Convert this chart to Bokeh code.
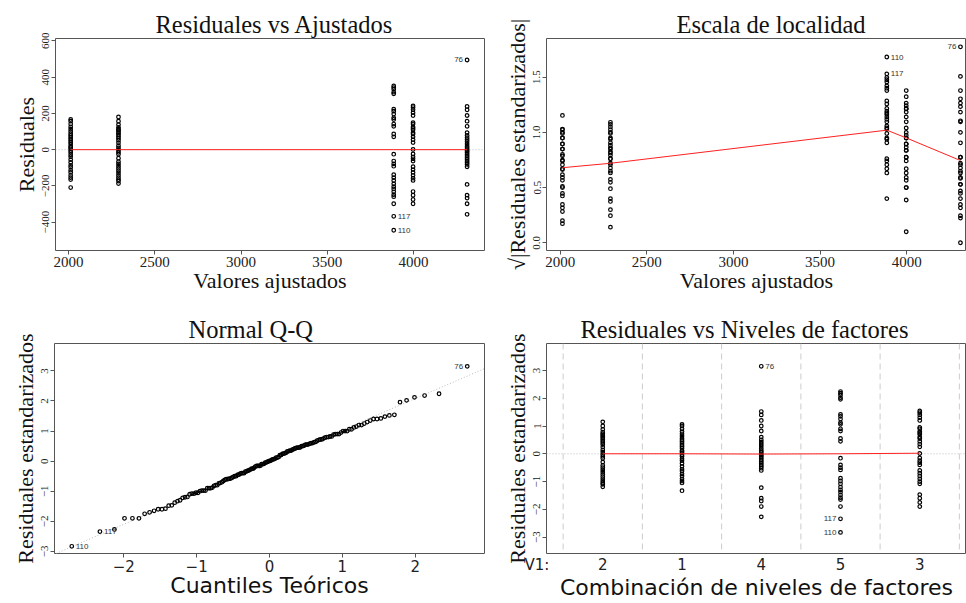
from statistics import NormalDist
import numpy as np
from bokeh.plotting import figure
from bokeh.layouts import column, row
from bokeh.models import (Range1d, Span, Slope, FixedTicker, PrintfTickFormatter)
from bokeh.core.properties import value
from bokeh.embed import file_html
from bokeh.resources import INLINE

# ---------------- data ----------------
# factor level of each fitted group and its fitted value
LEVELS = ["1", "2", "5", "3", "4"]
FITTED = [2013, 2290, 3885, 3997, 4310]

# standardized residuals per factor level
STD_RESID_1 = [-1.33, -1.05, -0.98, -0.9, -0.8, -0.72, -0.62, -0.55, -0.45, -0.35,
               -0.25, -0.18, -0.1, -0.04, 0.03, 0.08, 0.12, 0.2, 0.26, 0.32,
               0.38, 0.44, 0.5, 0.56, 0.64, 0.72, 0.8, 0.9, 1.0, 1.06]
STD_RESID_2 = [-1.19, -1.1, -1.05, -0.98, -0.9, -0.82, -0.74, -0.66, -0.58, -0.5,
               -0.42, -0.3, -0.16, -0.09, -0.02, 0.06, 0.14, 0.24, 0.33, 0.4,
               0.46, 0.52, 0.58, 0.63, 0.68, 0.72, 0.78, 0.88, 1.0, 1.15]
STD_RESID_5 = [2.24, 2.18, 2.12, 2.02, 1.96, 1.42, 1.35, 1.25, 1.12, 1.06,
               0.9, 0.82, 0.55, 0.45, -0.16, -0.4, -0.5, -0.58, -0.88, -0.98,
               -1.08, -1.2, -1.3, -1.38, -1.48, -1.58, -1.65, -1.9, -2.34, -2.83]
STD_RESID_3 = [1.54, 1.48, 1.4, 1.3, 1.2, 0.95, 0.9, 0.8, 0.75, 0.7,
               0.6, 0.55, 0.45, 0.35, 0.25, 0.01, -0.15, -0.25, -0.32, -0.4,
               -0.6, -0.7, -0.8, -0.9, -1.0, -1.08, -1.47, -1.6, -1.75, -1.9]
STD_RESID_4 = [3.15, 1.52, 1.4, 1.2, 1.0, 0.82, 0.6, 0.5, 0.42, 0.35,
               0.28, 0.2, 0.12, 0.06, 0.0, -0.05, -0.1, -0.16, -0.22, -0.28,
               -0.34, -0.4, -0.46, -0.52, -0.6, -1.22, -1.6, -1.7, -1.9, -2.27]
STD_RESID = {"1": STD_RESID_1, "2": STD_RESID_2, "5": STD_RESID_5,
             "3": STD_RESID_3, "4": STD_RESID_4}

RESID_SCALE = 157            # raw residual per standardized unit
LEVEL_ORDER = ["2", "1", "4", "5", "3"]   # order on the factor-level panel

RA_SMOOTH = [0.0, 0.0, 0.0, 0.0, 0.0]         # red line, residuals vs fitted
SL_SMOOTH = [0.68, 0.72, 1.02, 0.95, 0.745]   # red line, scale-location
FL_SMOOTH = [0.0, 0.0, -0.01, 0.0, 0.02]      # red line, factor levels (LEVEL_ORDER)

OUTLIER_ID = ["76", "117", "110"]
OUTLIER_LEVEL = ["4", "5", "5"]
OUTLIER_INDEX = [0, 28, 29]

TITLES = ["Residuales vs Ajustados", "Escala de localidad", "Normal Q-Q",
          "Residuales vs Niveles de factores"]
FACTOR_PREFIX = "V1:"

SERIF = "Liberation Serif"
SANS = "DejaVu Sans"
NARROW = "Liberation Sans Narrow"

# ---------------- derived columns ----------------
fit_x, std_y = [], []
for lvl, fv in zip(LEVELS, FITTED):
    for r in STD_RESID[lvl]:
        fit_x.append(fv)
        std_y.append(r)
fit_x = np.array(fit_x, dtype=float)
std_y = np.array(std_y, dtype=float)
raw_y = std_y * RESID_SCALE
sl_y = np.sqrt(np.abs(std_y))

n = len(std_y)
order = np.argsort(std_y)
nd = NormalDist()
theo = np.array([nd.inv_cdf((i + 0.5) / n) for i in range(n)])
qq_y = std_y[order]
rank_of = np.empty(n, dtype=int)
rank_of[order] = np.arange(n)

pos_of_level = {lvl: i + 1 for i, lvl in enumerate(LEVEL_ORDER)}
fl_x = np.array([pos_of_level[l] for l in LEVELS for _ in STD_RESID[l]], dtype=float)

start = {}
k = 0
for lvl in LEVELS:
    start[lvl] = k
    k += len(STD_RESID[lvl])
out_idx = [start[l] + i for l, i in zip(OUTLIER_LEVEL, OUTLIER_INDEX)]


def base_fig(title, w, h, xr, yr, bl, br, bt, bb, title_offset):
    p = figure(width=w, height=h, x_range=Range1d(*xr), y_range=Range1d(*yr),
               output_backend="svg", toolbar_location=None,
               min_border_left=bl, min_border_right=br, min_border_top=bt,
               min_border_bottom=bb)
    p.title.text = title
    p.title.align = "left"
    p.title.offset = title_offset
    p.title.text_font = SERIF
    p.title.text_font_size = "24.5px"
    p.title.text_font_style = "normal"
    p.title.text_color = "#111111"
    p.title.standoff = 2
    p.grid.visible = False
    p.outline_line_color = "#555555"
    p.outline_line_width = 1
    p.background_fill_color = "white"
    p.border_fill_color = "white"
    for ax in (p.xaxis[0], p.yaxis[0]):
        ax.axis_line_color = None
        ax.major_tick_line_color = "#555555"
        ax.major_tick_out = 4
        ax.major_tick_in = 0
        ax.minor_tick_line_color = None
        ax.major_label_text_color = "#222222"
        ax.axis_label_text_color = "#111111"
        ax.axis_label_text_font_style = "normal"
    p.yaxis.major_label_orientation = "vertical"
    p.yaxis.major_label_text_font = NARROW
    p.yaxis.major_label_text_font_size = "11px"
    p.yaxis.major_label_standoff = 2
    p.yaxis.axis_label_standoff = 1
    p.yaxis.axis_label_text_font = SERIF
    p.yaxis.axis_label_text_font_size = "22px"
    p.xaxis.major_label_standoff = 2
    p.xaxis.axis_label_standoff = -2
    return p


def pts(p, x, y):
    p.scatter(x, y, marker="circle", size=3.6, fill_color=None,
              line_color="black", line_width=1.2)


def lab(p, xs, ys, texts, align):
    off = -4 if align == "right" else 4
    p.text(x=xs, y=ys, text=texts, text_font=value("Liberation Sans"),
           text_font_size="8px", text_color="#333333", text_align=align,
           text_baseline="middle", x_offset=off)


def zero_line(p):
    p.add_layout(Span(location=0, dimension="width", line_color="#c0c0c0",
                      line_dash="1 2", line_width=1, level="underlay"))


# ---------------- panel 1: residuals vs fitted ----------------
p1 = base_fig(TITLES[0], 485, 300, (1925, 4411), (-556, 613), 55, 1, 38, 50, 100)
zero_line(p1)
pts(p1, fit_x, raw_y)
p1.line(x=FITTED, y=RA_SMOOTH, line_color="#ff2020", line_width=1)
p1.xaxis.axis_label = "Valores ajustados"
p1.xaxis.axis_label_text_font = SERIF
p1.xaxis.axis_label_text_font_size = "22px"
p1.xaxis.major_label_text_font = NARROW
p1.xaxis.major_label_text_font_size = "15px"
p1.yaxis.axis_label = "Residuales"
p1.xaxis.ticker = FixedTicker(ticks=[2000, 2500, 3000, 3500, 4000])
p1.yaxis.ticker = FixedTicker(ticks=[-400, -200, 0, 200, 400, 600])
lab(p1, [fit_x[out_idx[0]]], [raw_y[out_idx[0]]], [OUTLIER_ID[0]], "right")
lab(p1, [fit_x[i] for i in out_idx[1:]], [raw_y[i] for i in out_idx[1:]], OUTLIER_ID[1:], "left")

# ---------------- panel 2: scale-location ----------------
p2 = base_fig(TITLES[1], 481, 300, (1921, 4345), (-0.07, 1.85), 61, 0, 38, 50, 130)
pts(p2, fit_x, sl_y)
p2.line(FITTED, SL_SMOOTH, line_color="#ff2020", line_width=1)
p2.xaxis.axis_label = "Valores ajustados"
p2.xaxis.axis_label_text_font = SERIF
p2.xaxis.axis_label_text_font_size = "22px"
p2.xaxis.major_label_text_font = NARROW
p2.xaxis.major_label_text_font_size = "15px"
p2.yaxis.axis_label = "\u221a|Residuales estandarizados|"
p2.xaxis.ticker = FixedTicker(ticks=[2000, 2500, 3000, 3500, 4000])
p2.yaxis.ticker = FixedTicker(ticks=[0.0, 0.5, 1.0, 1.5])
p2.yaxis.formatter = PrintfTickFormatter(format="%.1f")
lab(p2, [fit_x[out_idx[0]]], [sl_y[out_idx[0]]], [OUTLIER_ID[0]], "right")
lab(p2, [fit_x[i] for i in out_idx[1:]], [sl_y[i] for i in out_idx[1:]], OUTLIER_ID[1:], "left")

# ---------------- panel 3: normal Q-Q ----------------
p3 = base_fig(TITLES[2], 485, 302, (-2.95, 2.95), (-3.07, 3.91), 54, 1, 43, 45, 134)
q1, q3 = np.percentile(std_y, [25, 75])
t1, t3 = nd.inv_cdf(0.25), nd.inv_cdf(0.75)
slope = (q3 - q1) / (t3 - t1)
p3.add_layout(Slope(gradient=slope, y_intercept=q1 - slope * t1, level="underlay",
                    line_color="#bbbbbb", line_dash="1 2", line_width=1))
pts(p3, theo, qq_y)
p3.xaxis.axis_label = "Cuantiles Te\u00f3ricos"
p3.xaxis.axis_label_text_font = SANS
p3.xaxis.axis_label_text_font_size = "22px"
p3.xaxis.major_label_text_font = SANS
p3.xaxis.major_label_text_font_size = "15px"
p3.yaxis.axis_label = "Residuales estandarizados"
p3.xaxis.ticker = FixedTicker(ticks=[-2, -1, 0, 1, 2])
p3.yaxis.ticker = FixedTicker(ticks=[-3, -2, -1, 0, 1, 2, 3])
p3.xaxis.major_label_overrides = {-2: "\u22122", -1: "\u22121"}
p3.yaxis.major_label_overrides = {-3: "\u22123", -2: "\u22122", -1: "\u22121"}
r76 = rank_of[out_idx[0]]
lab(p3, [theo[r76]], [qq_y[r76]], [OUTLIER_ID[0]], "right")
lab(p3, [theo[rank_of[i]] for i in out_idx[1:]], [qq_y[rank_of[i]] for i in out_idx[1:]],
    OUTLIER_ID[1:], "left")

# ---------------- panel 4: residuals vs factor levels ----------------
p4 = base_fig(TITLES[3], 481, 302, (0.29, 5.59), (-3.59, 3.97), 61, 0, 43, 45, 34)
for b in np.arange(len(LEVEL_ORDER) + 1) + 0.5:
    p4.add_layout(Span(location=b, dimension="height", line_color="#cccccc",
                       line_dash="6 4", line_width=1, level="underlay"))
zero_line(p4)
pts(p4, fl_x, std_y)
p4.line(list(range(1, len(LEVEL_ORDER) + 1)), FL_SMOOTH, line_color="#ff2020", line_width=1)
p4.xaxis.axis_label = "Combinaci\u00f3n de niveles de factores"
p4.xaxis.axis_label_text_font = SANS
p4.xaxis.axis_label_text_font_size = "22px"
p4.xaxis.major_label_text_font = SANS
p4.xaxis.major_label_text_font_size = "15px"
p4.xaxis.major_tick_out = 0
# the "V1:" prefix sits at the left edge of the frame, as in R's plot.lm
prefix_at = p4.x_range.start + 1e-6
p4.xaxis.ticker = FixedTicker(ticks=[prefix_at] + list(range(1, len(LEVEL_ORDER) + 1)))
overrides = {i + 1: l for i, l in enumerate(LEVEL_ORDER)}
overrides[prefix_at] = FACTOR_PREFIX + "\u2007\u2007"
p4.xaxis.major_label_overrides = overrides
p4.yaxis.axis_label = "Residuales estandarizados"
p4.yaxis.ticker = FixedTicker(ticks=[-3, -2, -1, 0, 1, 2, 3])
p4.yaxis.major_label_overrides = {-3: "\u22123", -2: "\u22122", -1: "\u22121"}
lab(p4, [fl_x[out_idx[0]]], [std_y[out_idx[0]]], [OUTLIER_ID[0]], "left")
lab(p4, [fl_x[i] for i in out_idx[1:]], [std_y[i] for i in out_idx[1:]], OUTLIER_ID[1:], "right")

layout = column(row(p1, p2), row(p3, p4))
open("out.html", "w").write(file_html(layout, INLINE))
